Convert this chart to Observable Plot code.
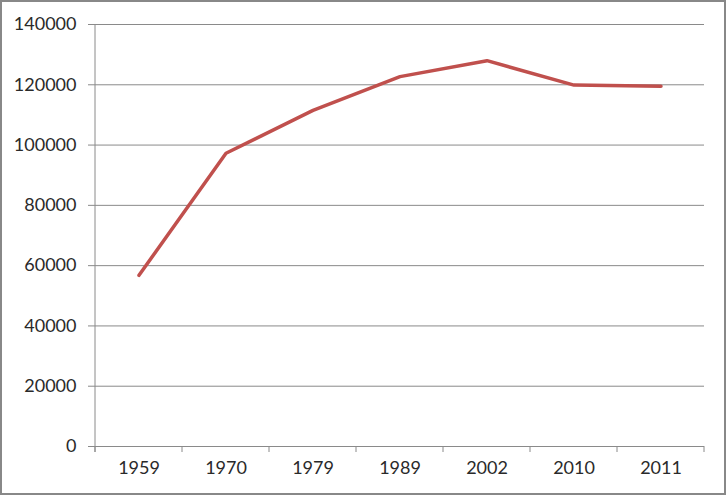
<!DOCTYPE html>
<html>
<head>
<meta charset="utf-8">
<script src="https://cdn.jsdelivr.net/npm/d3@7"></script>
<script src="https://cdn.jsdelivr.net/npm/@observablehq/plot@0.6"></script>
<style>
  html, body { margin: 0; padding: 0; background: #fff; }
  #chart svg { display: block; }
</style>
</head>
<body>
<div id="chart"></div>
<script>
const years = ["1959", "1970", "1979", "1989", "2002", "2010", "2011"];
const values = [56800, 97300, 111500, 122700, 128000, 119900, 119500];
const yTicks = [0, 20000, 40000, 60000, 80000, 100000, 120000, 140000];

const data = years.map((y, i) => ({year: y, value: values[i]}));

const gridColor = "#8a8a8a";
const font = "Lato, 'Open Sans', sans-serif";

// Category boundary tick marks drawn from the band scale
const boundaryTicks = (index, scales, values, dims) => {
  const x = scales.x;
  const bw = x.bandwidth ? x.bandwidth() : 87;
  const y0 = scales.y(0);
  const g = d3.create("svg:g");
  const edges = years.map(d => x(d)).concat([x(years[years.length - 1]) + bw]);
  edges.forEach(px => {
    g.append("line")
      .attr("x1", px).attr("x2", px)
      .attr("y1", y0).attr("y2", y0 + 6)
      .attr("stroke", gridColor).attr("stroke-width", 1);
  });
  g.append("line")
    .attr("x1", edges[0]).attr("x2", edges[0])
    .attr("y1", scales.y(yTicks[yTicks.length - 1])).attr("y2", y0 + 6)
    .attr("stroke", gridColor).attr("stroke-width", 1);
  return g.node();
};

const chart = Plot.plot({
  width: 727,
  height: 496,
  marginLeft: 95,
  marginRight: 23,
  marginTop: 24,
  marginBottom: 50,
  style: {fontFamily: font, fontSize: "18px", color: "#2a2a2a", background: "#fff"},
  x: {type: "band", domain: years, padding: 0, label: null},
  y: {domain: [0, 140000], label: null},
  marks: [
    Plot.ruleY(yTicks, {y: d => d, stroke: gridColor, strokeWidth: 1, strokeOpacity: 1}),
    Plot.axisY({ticks: yTicks, tickSize: 7, tickPadding: 12, tickFormat: d => String(d), stroke: gridColor, strokeOpacity: 1, fill: "#2a2a2a", fontSize: 18}),
    Plot.axisX({tickSize: 0, tickPadding: 15, fill: "#2a2a2a", fontSize: 18}),
    boundaryTicks,
    Plot.lineY(data, {x: "year", y: "value", stroke: "#c0504d", strokeWidth: 3.5, strokeLinejoin: "round", strokeLinecap: "round"})
  ]
});

d3.select(chart).append("rect")
  .attr("x", 1).attr("y", 1).attr("width", 724).attr("height", 493)
  .attr("fill", "none").attr("stroke", "#888").attr("stroke-width", 2);

document.getElementById("chart").appendChild(chart);
</script>
</body>
</html>
